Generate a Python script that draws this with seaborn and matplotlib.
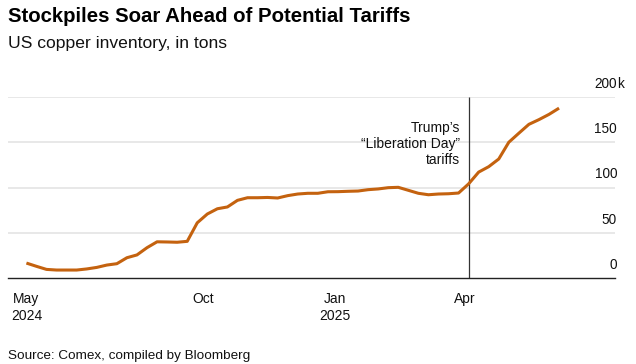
import matplotlib
matplotlib.use('Agg')
import matplotlib.pyplot as plt
import matplotlib.transforms as mtransforms
import pandas as pd
import seaborn as sns

# weekly Comex copper stocks (thousand tons)
start_date = '2024-05-31'
stocks = [16.5, 12.9, 9.5, 8.8, 8.8, 8.8, 10.0, 11.7, 14.3, 15.8,
          22.4, 25.5, 33.5, 40.0, 39.8, 39.5, 40.5, 61.0, 70.7, 76.5,
          78.5, 85.8, 88.7, 88.7, 89.0, 88.4, 91.0, 92.8, 93.6, 93.6,
          95.3, 95.4, 95.8, 96.1, 97.6, 98.4, 99.8, 100.2, 96.9, 93.6,
          92.0, 92.8, 93.1, 93.9, 104.0, 117.0, 123.0, 131.5, 150.0, 160.0,
          169.8, 175.0, 180.8, 187.7]
dates = pd.date_range(start_date, periods=len(stocks), freq='7D')
df = pd.DataFrame({'date': dates, 'stock': stocks})

tick_dates = pd.to_datetime(['2024-05-31', '2024-10-01', '2025-01-01', '2025-04-01'])
tick_labels = ['May\n2024', 'Oct', 'Jan\n2025', 'Apr']
y_ticks = [0, 50, 100, 150, 200]
y_labels = ['0', '50', '100', '150', '200']
event_date = pd.Timestamp('2025-04-04')
event_text = 'Trump\u2019s\n\u201cLiberation Day\u201d\ntariffs'

sns.set_style('white')
plt.rcParams['font.family'] = ['Liberation Sans', 'DejaVu Sans']

W, H = 636, 364
fig = plt.figure(figsize=(W / 100, H / 100), dpi=100)
ax = fig.add_axes([8 / W, 1 - 278 / H, 607 / W, 181 / H])

sns.lineplot(data=df, x='date', y='stock', ax=ax, color='#c4620f', linewidth=2.2,
             solid_joinstyle='round', solid_capstyle='butt', zorder=3)

# x range, ~1.4357 px per day
px_day = 1.4357
ax.set_xlim(pd.Timestamp('2024-10-01') - pd.Timedelta(days=195 / px_day),
            pd.Timestamp('2025-04-01') + pd.Timedelta(days=150.7 / px_day))
ax.set_ylim(0, 200)

for v in y_ticks[1:]:
    ax.axhline(v, color='#e2e2e2', linewidth=1.1, zorder=1)

ax.vlines(event_date, 0, 200, color='#333333', linewidth=0.9, zorder=2)
ax.annotate(event_text, xy=(event_date, 148), xytext=(-6, 0), textcoords='offset points',
            ha='right', va='center', fontsize=10, linespacing=1.15, color='#111111')

for s in ['top', 'right', 'left']:
    ax.spines[s].set_visible(False)
ax.spines['bottom'].set_color('#222222')
ax.spines['bottom'].set_linewidth(1.0)

ax.set_xticks(tick_dates)
ax.set_xticklabels(tick_labels, fontsize=10, linespacing=1.3, color='#111111')
ax.tick_params(axis='x', direction='out', length=4, width=0.9, color='#444444', pad=6)
ax.set_yticks([])
ax.set_xlabel('')
ax.set_ylabel('')

trans = mtransforms.blended_transform_factory(ax.transAxes, ax.transData)
for v, lab in zip(y_ticks, y_labels):
    ax.annotate(lab, xy=(1.0033, v), xycoords=trans, xytext=(0, 6.5), textcoords='offset points',
                ha='right', va='baseline', fontsize=9.8, color='#111111', annotation_clip=False)
ax.annotate('k', xy=(1.0033, 200), xycoords=trans, xytext=(0, 6.5), textcoords='offset points',
            ha='left', va='baseline', fontsize=9.8, color='#111111', annotation_clip=False)

fig.text(8 / W, 1 - 22.3 / H, 'Stockpiles Soar Ahead of Potential Tariffs',
         fontsize=14.7, fontweight='bold', va='baseline', ha='left', color='#000000')
fig.text(8 / W, 1 - 47.7 / H, 'US copper inventory, in tons',
         fontsize=12.6, va='baseline', ha='left', color='#111111')
fig.text(8 / W, 1 - 359.5 / H, 'Source: Comex, compiled by Bloomberg',
         fontsize=9.7, va='baseline', ha='left', color='#111111')

fig.savefig('out.png', dpi=100)
